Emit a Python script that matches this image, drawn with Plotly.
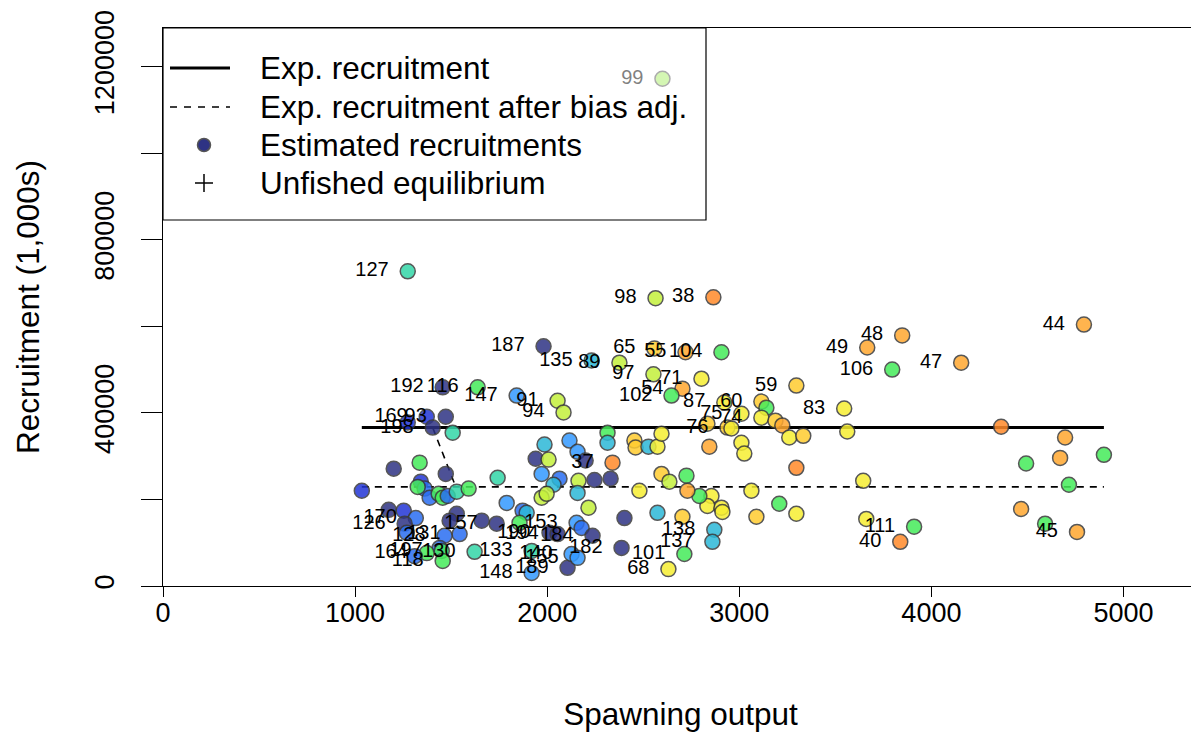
import plotly.graph_objects as go

# ---------------- data ----------------
ssb = [2600, 1274, 2564, 2865, 1981, 2558, 2720, 2907, 2231, 2376,
       2553, 2803, 2704, 2647, 2922, 3115, 3297, 3848, 3666, 4155,
       3796, 3546, 4794, 1456, 1638, 1841, 2054, 2085, 1373, 1472,
       1274, 1404, 1508, 3141, 3115, 3011, 2938, 2959, 3188, 3224,
       2834, 3260, 3333, 3011, 3026, 2844, 3297, 3063, 2855, 2834,
       2907, 2912, 3208, 3297, 3089, 2792, 2870, 2860, 2714, 2631,
       3562, 4363, 3645, 3661, 3910, 3838, 4696, 4670, 4898, 4493,
       4716, 4467, 4592, 4758, 2116, 2314, 2314, 2158, 2200, 2340,
       2454, 2460, 2527, 2574, 2595, 1986, 1940, 2007, 1742, 1971,
       2064, 2033, 2163, 2246, 2330, 2158, 1971, 1997, 2215, 1789,
       1872, 1893, 1856, 1737, 1659, 2012, 2054, 2153, 2179, 2236,
       2402, 2387, 2106, 2127, 1919, 1919, 2480, 2595, 2636, 2725,
       2730, 2704, 2574, 1035, 1201, 1336, 1472, 1342, 1362, 1326,
       1388, 1435, 1456, 1482, 1529, 1591, 1175, 1253, 1316, 1258,
       1269, 1529, 1492, 1544, 1466, 1440, 1451, 1456, 1373, 1310,
       1622, 2158]
recr = [1172000, 727000, 665000, 667000, 554000, 549000, 540000, 540000, 521000, 516000,
        489000, 479000, 456000, 440000, 424000, 426000, 463000, 579000, 551000, 516000,
        500000, 410000, 604000, 459000, 459000, 440000, 428000, 401000, 391000, 391000,
        378000, 366000, 354000, 412000, 389000, 398000, 366000, 364000, 382000, 371000,
        375000, 343000, 347000, 331000, 306000, 322000, 273000, 220000, 208000, 185000,
        181000, 171000, 190000, 167000, 160000, 208000, 130000, 102000, 74000, 39000,
        357000, 368000, 243000, 155000, 137000, 102000, 343000, 296000, 303000, 283000,
        234000, 178000, 144000, 125000, 336000, 354000, 331000, 310000, 290000, 285000,
        336000, 320000, 322000, 322000, 352000, 327000, 294000, 292000, 250000, 259000,
        248000, 234000, 243000, 245000, 248000, 215000, 204000, 213000, 181000, 192000,
        174000, 169000, 146000, 144000, 151000, 123000, 120000, 146000, 134000, 116000,
        157000, 88000, 42000, 74000, 81000, 30000, 220000, 259000, 241000, 255000,
        220000, 160000, 169000, 220000, 271000, 285000, 259000, 241000, 225000, 229000,
        204000, 213000, 204000, 208000, 218000, 225000, 176000, 174000, 157000, 144000,
        123000, 167000, 151000, 120000, 116000, 88000, 81000, 58000, 76000, 69000,
        79000, 65000]
colour_class = ["LG", "TE", "YG", "DO", "NV", "GO", "OR", "GR", "CY", "YG",
                "YG", "YE", "OR", "GR", "YE", "GO", "GO", "OR", "OR", "OR",
                "GR", "YE", "OR", "NV", "GR", "LB", "YG", "YG", "DB", "NV",
                "DB", "NV", "TE", "GR", "YE", "YE", "GO", "YE", "GO", "OR",
                "GO", "YE", "GO", "YE", "YE", "OR", "DO", "YE", "YE", "YE",
                "YE", "YE", "GR", "YE", "GO", "GR", "CY", "CY", "GR", "YE",
                "YE", "DO", "YE", "YE", "GR", "DO", "OR", "OR", "GR", "GR",
                "GR", "OR", "GR", "OR", "LB", "GR", "CY", "LB", "NV", "DO",
                "GO", "GO", "CY", "YE", "YE", "CY", "NV", "YG", "TE", "LB",
                "BL", "CY", "YG", "NV", "NV", "CY", "YG", "YG", "YG", "LB",
                "BL", "CY", "GR", "NV", "NV", "NV", "NV", "LB", "BL", "NV",
                "NV", "NV", "NV", "LB", "TE", "LB", "YE", "GO", "YG", "GR",
                "OR", "GO", "CY", "DB", "NV", "GR", "NV", "DB", "BL", "GR",
                "BL", "GR", "GR", "BL", "TE", "GR", "NV", "DB", "BL", "NV",
                "BL", "NV", "NV", "BL", "BL", "BL", "GR", "GR", "GR", "BL",
                "TE", "LB"]
year_label = ["99", "127", "98", "38", "187", "65", "55", "104", "135", "89",
              "97", "71", "54", "102", "87", "60", "59", "48", "49", "47",
              "106", "83", "44", "192", "116", "147", "91", "94", "169", "93",
              "", "198", "", "", "74", "75", "76", "", "", "",
              "", "", "", "", "", "", "", "", "", "",
              "", "", "", "", "", "", "138", "137", "101", "68",
              "", "", "", "", "111", "40", "", "", "", "",
              "", "", "", "45", "", "", "", "", "", "37",
              "", "", "", "", "", "", "", "", "", "",
              "", "", "", "", "", "", "", "", "", "",
              "", "", "", "157", "", "190", "194", "153", "", "184",
              "", "182", "189", "140", "133", "148", "", "", "", "",
              "", "", "", "", "", "", "", "", "", "",
              "", "", "", "", "", "", "", "", "170", "126",
              "", "", "", "131", "128", "", "197", "118", "164", "",
              "130", "155"]

exp_recruitment = 366000            # R0, expected recruitment
exp_recruitment_bias_adj = 229000   # after bias adjustment
ramp_ssb = [1404, 1524]             # years where bias adjustment starts
x_ticks = [0, 1000, 2000, 3000, 4000, 5000]
y_ticks = [0, 200000, 400000, 600000, 800000, 1000000, 1200000]
y_tick_labels = ["0", "", "400000", "", "800000", "", "1200000"]

palette = {
    "NV": "#2e3384", "DB": "#2336d6", "BL": "#2a6ef2", "LB": "#3399ff",
    "CY": "#2cb8d8", "TE": "#33d6a8", "GR": "#45ec5a", "LG": "#9bea4c",
    "YG": "#c4f03c", "YE": "#f6ee32", "GO": "#ffcc30", "OR": "#ffa830",
    "DO": "#ff8a2a",
}

FONT = "Liberation Sans, Arial, Helvetica, sans-serif"
TICK_SIZE = 27
TEXT_SIZE = 31.5

x_min, x_max = min(ssb), max(ssb)

fig = go.Figure()

# expected recruitment (solid)
fig.add_trace(go.Scatter(
    x=[x_min, x_max], y=[exp_recruitment, exp_recruitment],
    mode="lines", line=dict(color="black", width=3),
    name="Exp. recruitment", showlegend=False, hoverinfo="skip"))

# expected recruitment after bias adjustment (dashed)
fig.add_trace(go.Scatter(
    x=[ramp_ssb[0], ramp_ssb[1], None, x_min, x_max],
    y=[exp_recruitment, exp_recruitment_bias_adj, None,
       exp_recruitment_bias_adj, exp_recruitment_bias_adj],
    mode="lines", line=dict(color="black", width=1.6, dash="7px,6px"),
    name="Exp. recruitment after bias adj.", showlegend=False, hoverinfo="skip"))

# estimated recruitments
fig.add_trace(go.Scatter(
    x=ssb, y=recr, mode="markers",
    marker=dict(size=15, color=[palette[c] for c in colour_class], opacity=0.85,
                line=dict(color="#3a3a3a", width=1.5)),
    name="Estimated recruitments", showlegend=False,
    text=year_label, hovertemplate="%{text}: %{x}, %{y}<extra></extra>"))

# year labels (left of points)
lab_idx = [i for i, t in enumerate(year_label) if t]
fig.add_trace(go.Scatter(
    x=[ssb[i] for i in lab_idx], y=[recr[i] for i in lab_idx],
    text=[year_label[i] for i in lab_idx],
    mode="markers+text", textposition="middle left",
    marker=dict(size=28.8, opacity=0),
    textfont=dict(family=FONT, size=20, color="black"),
    showlegend=False, hoverinfo="skip"))

# ---------------- manual legend (R style box) ----------------
shapes = []
def pshape(**kw):
    base = dict(xref="paper", yref="paper", xsizemode="pixel", ysizemode="pixel",
                xanchor=0, yanchor=1, layer="above")
    base.update(kw)
    shapes.append(base)

pshape(type="rect", x0=0, x1=543, y0=0, y1=-192,
       fillcolor="rgba(255,255,255,0.5)", line=dict(color="black", width=1.2))
pshape(type="line", x0=7, x1=67, y0=-40, y1=-40, line=dict(color="black", width=3))
pshape(type="line", x0=7, x1=67, y0=-79, y1=-79,
       line=dict(color="black", width=1.6, dash="7px,7px"))
pshape(type="circle", x0=34.5, x1=47.5, y0=-110.5, y1=-123.5,
       fillcolor=palette["NV"], line=dict(color="#555555", width=1.5))
pshape(type="line", x0=32, x1=50, y0=-155, y1=-155, line=dict(color="black", width=1.5))
pshape(type="line", x0=41, x1=41, y0=-146, y1=-164, line=dict(color="black", width=1.5))

legend_text = ["Exp. recruitment", "Exp. recruitment after bias adj.",
               "Estimated recruitments", "Unfished equilibrium"]
legend_rows = [-40, -79, -117, -155]
annotations = []
for t, dy in zip(legend_text, legend_rows):
    annotations.append(dict(xref="paper", yref="paper", x=0, y=1, xanchor="left",
                            yanchor="middle", xshift=95, yshift=dy, text=t,
                            showarrow=False, font=dict(family=FONT, size=TEXT_SIZE, color="black")))

fig.update_layout(
    width=1191, height=725,
    margin=dict(l=155, r=1, t=20, b=147, pad=0),
    plot_bgcolor="white", paper_bgcolor="white",
    font=dict(family=FONT, size=TICK_SIZE, color="black"),
    shapes=shapes, annotations=annotations,
    showlegend=False,
    xaxis=dict(range=[0, 1.1 * x_max], tickvals=x_ticks, ticks="outside", ticklen=10,
               ticklabelstandoff=-7,
               tickwidth=1, tickcolor="black", showline=True, linecolor="black",
               linewidth=1, mirror=True, showgrid=False, zeroline=False,
               tickfont=dict(family=FONT, size=TICK_SIZE),
               title=dict(text="Spawning output", font=dict(family=FONT, size=TEXT_SIZE),
                          standoff=75)),
    yaxis=dict(range=[0, 1.1 * max(recr)], tickvals=y_ticks, ticktext=y_tick_labels,
               tickangle=-90, ticks="outside", ticklen=21, tickwidth=1, tickcolor="black",
               ticklabelstandoff=16,
               showline=True, linecolor="black", linewidth=1, mirror=True,
               showgrid=False, zeroline=False,
               tickfont=dict(family=FONT, size=TICK_SIZE),
               title=dict(text="Recruitment (1,000s)", font=dict(family=FONT, size=TEXT_SIZE),
                          standoff=41)),
)

fig.write_html("out.html")
